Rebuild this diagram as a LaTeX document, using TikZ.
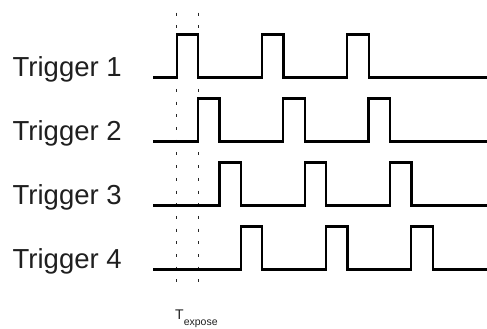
\documentclass[tikz,border=0pt]{standalone}
\usepackage{fontspec}
\setmainfont{Liberation Sans}
\begin{document}
\begin{tikzpicture}[x=1pt,y=-1pt,
  sig/.style={line width=2.3pt, line join=miter, black},
  dotline/.style={line width=0.8pt, black!85, dash pattern=on 3pt off 9.7pt},
  lbl/.style={anchor=base west, inner sep=0pt, font=\fontsize{27.5}{27.5}\selectfont, text=black!88}]
\useasboundingbox (0,0) rectangle (487,329);
% dotted exposure markers
\coordinate (d1t) at (176.7,12.7);
\coordinate (d1b) at (176.7,287);
\coordinate (d2t) at (198,12.7);
\coordinate (d2b) at (198,287);
\draw[dotline] (d1t) -- (d1b);
\draw[dotline] (d2t) -- (d2b);
% waveforms
\foreach \k in {0,1,2,3}{
  \pgfmathsetmacro\yb{77.5+64*\k}
  \pgfmathsetmacro\xa{176.7+21.33*\k}
  \draw[sig] (153.3,\yb) -- (\xa,\yb)
     -- ++(0,-43) -- ++(21.5,0) -- ++(0,43) -- ++(63.8,0)
     -- ++(0,-43) -- ++(21.5,0) -- ++(0,43) -- ++(63.8,0)
     -- ++(0,-43) -- ++(21.5,0) -- ++(0,43) -- (488,\yb);
}
\node[lbl] (t1) at (12.5,76) {Trigger 1};
\node[lbl] (t2) at (12.5,140) {Trigger 2};
\node[lbl] (t3) at (12.5,204) {Trigger 3};
\node[lbl] (t4) at (12.5,268) {Trigger 4};
\node[anchor=base west, inner sep=0pt, text=black!88] (te) at (175,319)
  {\fontsize{14}{14}\selectfont T\raisebox{-6pt}{\fontsize{10.5}{10.5}\selectfont expose}};
\end{tikzpicture}
\end{document}
